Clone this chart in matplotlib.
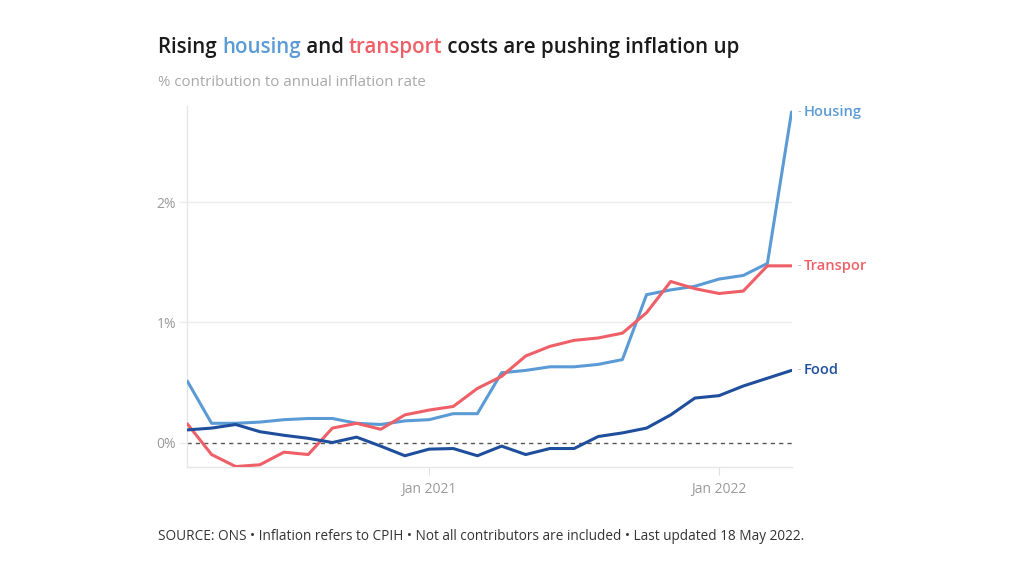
import numpy as np
import pandas as pd
import matplotlib
matplotlib.use("Agg")
import matplotlib.pyplot as plt
from matplotlib.transforms import Bbox

plt.rcParams['font.family'] = ['Open Sans', 'DejaVu Sans']

# Monthly, Mar 2020 - Apr 2022
months = pd.date_range("2020-03-01", "2022-04-01", freq="MS")

housing = [0.51, 0.16, 0.16, 0.17, 0.19, 0.20, 0.20, 0.16, 0.15, 0.18,
           0.19, 0.24, 0.24, 0.58, 0.60, 0.63, 0.63, 0.65, 0.69, 1.23,
           1.27, 1.30, 1.36, 1.39, 1.49, 2.75]
transport = [0.155, -0.10, -0.20, -0.185, -0.08, -0.10, 0.12, 0.16, 0.11, 0.23,
             0.27, 0.30, 0.45, 0.55, 0.72, 0.80, 0.85, 0.87, 0.91, 1.08,
             1.34, 1.28, 1.24, 1.26, 1.47, 1.47]
food = [0.105, 0.12, 0.15, 0.09, 0.06, 0.035, 0.0, 0.045, -0.03, -0.11,
        -0.055, -0.05, -0.11, -0.03, -0.10, -0.05, -0.05, 0.05, 0.08, 0.12,
        0.23, 0.37, 0.39, 0.47, 0.535, 0.60]

series_names = ["Housing", "Transport", "Food"]
series_data = [housing, transport, food]
colors = {"Housing": "#5b9bd5", "Transport": "#ef5f67", "Food": "#1f4e9c"}

fig = plt.figure(figsize=(10.24, 5.76), dpi=100)
ax = fig.add_axes([0.183, 0.19, 0.590, 0.626])

x = np.arange(len(months))
for name, vals in zip(series_names, series_data):
    ax.plot(x, vals, color=colors[name], lw=2.2, solid_joinstyle="round",
            solid_capstyle="round", zorder=3)

ax.axhline(0, color="#555555", lw=1, ls=(0, (3, 3)), zorder=2)
for v in [1, 2]:
    ax.axhline(v, color="#ececec", lw=1, zorder=1)

ax.set_xlim(0, len(months) - 1)
ax.set_ylim(-0.2, 2.8)
ax.set_yticks([0, 1, 2])
ax.set_yticklabels(["0%", "1%", "2%"])
jan_idx = [i for i, m in enumerate(months) if m.month == 1]
ax.set_xticks(jan_idx)
ax.set_xticklabels([f"Jan {months[i].year}" for i in jan_idx])

for s in ["top", "right"]:
    ax.spines[s].set_visible(False)
for s in ["left", "bottom"]:
    ax.spines[s].set_color("#e6e6e6")
    ax.spines[s].set_linewidth(1)
ax.tick_params(axis="y", length=6, width=1, color="#ececec", pad=2,
               labelsize=10, labelcolor="#9a9a9a")
ax.tick_params(axis="x", length=6, color="#e0e0e0", pad=5, labelsize=10,
               labelcolor="#9a9a9a")

# end labels
clip = Bbox.from_extents(0, 0, 866, 576)
for name, vals in zip(series_names, series_data):
    ax.annotate("-", xy=(x[-1], vals[-1]), xytext=(4.5, 0.5),
                textcoords="offset points", va="center", ha="left",
                color="#aaaaaa", fontsize=8, annotation_clip=False)
    t = ax.annotate(name, xy=(x[-1], vals[-1]), xytext=(9, 0),
                    textcoords="offset points", va="center", ha="left",
                    color=colors[name], fontsize=10.5, fontweight="semibold",
                    annotation_clip=False)
    t.set_clip_on(True)
    t.set_clip_box(clip)

# multi-coloured title
pieces = [("Rising ", "#1a1a1a"), ("housing", colors["Housing"]),
          (" and ", "#1a1a1a"), ("transport", colors["Transport"]),
          (" costs are pushing inflation up", "#1a1a1a")]
fig.canvas.draw()
renderer = fig.canvas.get_renderer()
xpos = 158
for txt, col in pieces:
    t = fig.text(xpos / 1024, 1 - 53 / 576, txt, color=col, fontsize=14.8,
                 fontweight="semibold", va="baseline", ha="left")
    xpos = t.get_window_extent(renderer).x1

fig.text(158 / 1024, 1 - 82 / 576, "% contribution to annual inflation rate",
         color="#a8a8a8", fontsize=10.8, va="center", ha="left")
fig.text(158 / 1024, 1 - 537 / 576,
         "SOURCE: ONS \u2022 Inflation refers to CPIH \u2022 Not all contributors are included \u2022 Last updated 18 May 2022.",
         color="#333333", fontsize=9.8, va="center", ha="left")

fig.savefig("out.png", dpi=100)
